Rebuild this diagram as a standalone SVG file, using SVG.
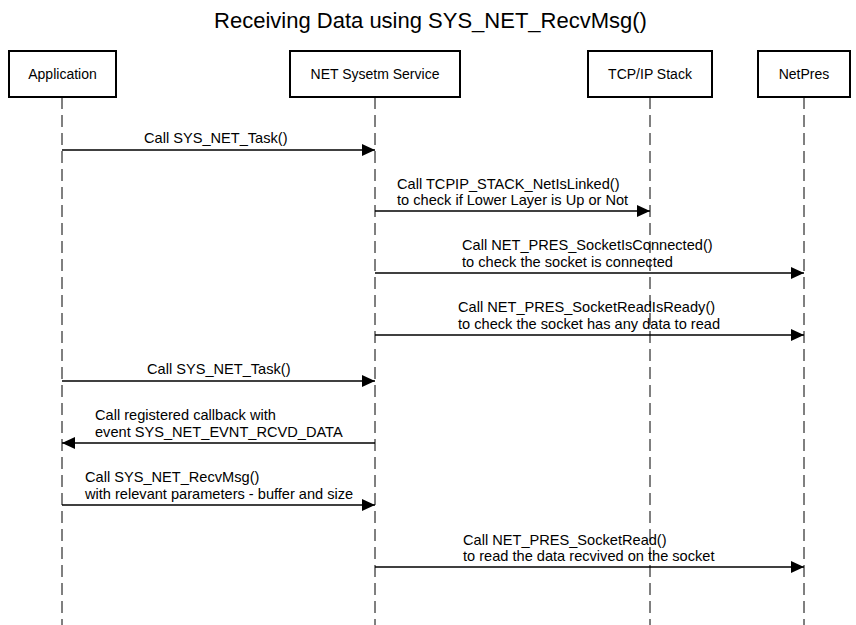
<svg xmlns="http://www.w3.org/2000/svg" width="856" height="625" viewBox="0 0 856 625">
<style>
  text { font-family: "Liberation Sans", Arial, sans-serif; font-size: 14px; fill: #000; }
  .title { font-size: 22px; }
  .lbl { font-size: 14.6px; }
  .box { fill: #fff; stroke: #000; stroke-width: 2; }
  .life { stroke: #000; stroke-width: 1; stroke-dasharray: 12 6; fill: none; }
  .msg { stroke: #000; stroke-width: 1.3; fill: none; marker-end: url(#arrow); }
</style>
<defs>
  <marker id="arrow" markerWidth="13" markerHeight="12" refX="13" refY="6" orient="auto" markerUnits="userSpaceOnUse">
    <path d="M0,0 L13,6 L0,12 Z" fill="#000"/>
  </marker>
</defs>
<rect width="856" height="625" fill="#fff"/>
<text class="title" x="430.5" y="28" text-anchor="middle">Receiving Data using SYS_NET_RecvMsg()</text>

<g id="application">
  <rect class="box" x="9" y="51" width="107" height="46"/>
  <text x="62.5" y="79" text-anchor="middle">Application</text>
  <line class="life" x1="62" y1="97" x2="62" y2="625"/>
</g>
<g id="net-service">
  <rect class="box" x="290" y="51" width="170" height="46"/>
  <text x="375" y="79" text-anchor="middle">NET Sysetm Service</text>
  <line class="life" x1="375" y1="97" x2="375" y2="625"/>
</g>
<g id="tcpip-stack">
  <rect class="box" x="588" y="51" width="124" height="46"/>
  <text x="650" y="79" text-anchor="middle">TCP/IP Stack</text>
  <line class="life" x1="650" y1="97" x2="650" y2="625"/>
</g>
<g id="netpres">
  <rect class="box" x="758" y="51" width="92" height="46"/>
  <text x="804" y="79" text-anchor="middle">NetPres</text>
  <line class="life" x1="804" y1="97" x2="804" y2="625"/>
</g>

<g id="connectors">
  <line class="msg" x1="62" y1="150" x2="375" y2="150"/>
  <text class="lbl" x="144" y="143">Call SYS_NET_Task()</text>

  <line class="msg" x1="375" y1="211" x2="650" y2="211"/>
  <text class="lbl" x="397" y="189">Call TCPIP_STACK_NetIsLinked()</text>
  <text class="lbl" x="397" y="205">to check if Lower Layer is Up or Not</text>

  <line class="msg" x1="375" y1="273" x2="804" y2="273"/>
  <text class="lbl" x="462" y="250">Call NET_PRES_SocketIsConnected()</text>
  <text class="lbl" x="462" y="267">to check the socket is connected</text>

  <line class="msg" x1="375" y1="335" x2="804" y2="335"/>
  <text class="lbl" x="458" y="312">Call NET_PRES_SocketReadIsReady()</text>
  <text class="lbl" x="458" y="329">to check the socket has any data to read</text>

  <line class="msg" x1="62" y1="381" x2="375" y2="381"/>
  <text class="lbl" x="147" y="374">Call SYS_NET_Task()</text>

  <line class="msg" x1="375" y1="443" x2="62" y2="443"/>
  <text class="lbl" x="95" y="420">Call registered callback with</text>
  <text class="lbl" x="95" y="437">event SYS_NET_EVNT_RCVD_DATA</text>

  <line class="msg" x1="62" y1="505" x2="375" y2="505"/>
  <text class="lbl" x="85" y="482">Call SYS_NET_RecvMsg()</text>
  <text class="lbl" x="85" y="499">with relevant parameters - buffer and size</text>

  <line class="msg" x1="375" y1="567" x2="804" y2="567"/>
  <text class="lbl" x="463" y="545">Call NET_PRES_SocketRead()</text>
  <text class="lbl" x="463" y="561">to read the data recvived on the socket</text>
</g>
</svg>
